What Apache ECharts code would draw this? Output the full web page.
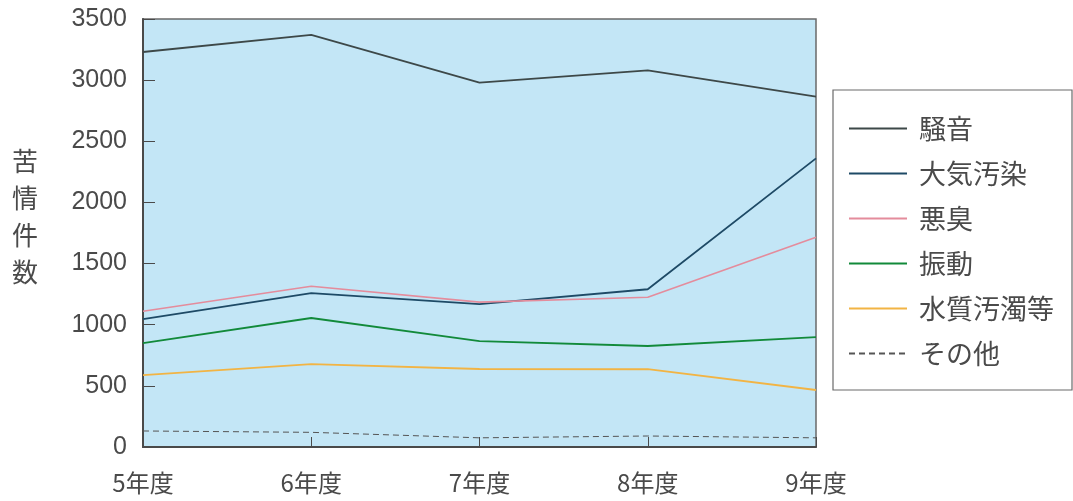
<!DOCTYPE html>
<html>
<head>
<meta charset="utf-8">
<script src="https://cdn.jsdelivr.net/npm/echarts@6/dist/echarts.min.js"></script>
<style>
  html, body { margin: 0; padding: 0; background: #fff; }
  #chart { width: 1073px; height: 501px; }
</style>
</head>
<body>
<div id="chart"></div>
<script>
// 年度ごとの苦情件数
const years = ['5年度', '6年度', '7年度', '8年度', '9年度'];
const noise = [3230, 3370, 2980, 3080, 2865];       // 騒音
const air = [1045, 1258, 1168, 1290, 2360];         // 大気汚染
const odor = [1110, 1315, 1185, 1225, 1715];        // 悪臭
const vibration = [850, 1055, 866, 826, 899];       // 振動
const water = [588, 678, 638, 636, 466];            // 水質汚濁等
const other = [131, 120, 75, 90, 75];               // その他
const yTicks = [0, 500, 1000, 1500, 2000, 2500, 3000, 3500];

const latin = '"Liberation Sans", "Noto Sans CJK JP", sans-serif';
const cjk = '"Noto Sans CJK JP", sans-serif';
const textColor = '#4a4a4a';

function line(name, data, color, width, type) {
    return {
        name: name,
        type: 'line',
        data: data,
        symbol: 'none',
        lineStyle: { color: color, width: width, type: type || 'solid' },
        itemStyle: { color: color },
        emphasis: { disabled: true },
        animation: false,
    };
}

const chart = echarts.init(document.getElementById('chart'));

chart.setOption({
    backgroundColor: '#fff',
    textStyle: { fontFamily: latin },
    grid: {
        left: 143, right: 257, top: 19, bottom: 54,
        show: true,
        backgroundColor: '#c3e6f6',
        borderColor: '#6a6a6a',
        borderWidth: 1.5,
    },
    xAxis: {
        type: 'category',
        data: years,
        boundaryGap: false,
        axisLine: { lineStyle: { color: '#4a4a4a', width: 2 } },
        axisTick: { inside: true, length: 10, lineStyle: { color: '#4a4a4a' } },
        axisLabel: { color: textColor, fontSize: 24, margin: 24, fontFamily: cjk },
        splitLine: { show: false },
    },
    yAxis: {
        type: 'value',
        min: yTicks[0],
        max: yTicks[yTicks.length - 1],
        interval: 500,
        axisLine: { show: true, lineStyle: { color: '#4a4a4a', width: 2 } },
        axisTick: { show: true, inside: true, length: 12, lineStyle: { color: '#4a4a4a' } },
        axisLabel: { color: textColor, fontSize: 25, margin: 16, formatter: v => String(v) },
        splitLine: { show: false },
    },
    legend: {
        orient: 'vertical',
        left: 843,
        top: 110,
        itemWidth: 58,
        itemHeight: 14,
        itemGap: 18,
        itemStyle: { opacity: 0 },
        textStyle: { color: textColor, fontSize: 27, fontFamily: cjk, padding: [0, 0, 0, 7] },
        data: ['騒音', '大気汚染', '悪臭', '振動', '水質汚濁等', 'その他'],
    },
    graphic: [
        {
            type: 'rect',
            shape: { x: 833, y: 90, width: 239, height: 300 },
            style: { fill: 'none', stroke: '#6a6a6a', lineWidth: 1.2 },
            z: -1,
        },
        {
            type: 'text',
            left: 12,
            top: 143,
            style: {
                text: '苦\n情\n件\n数',
                font: '26px "Noto Sans CJK JP", sans-serif',
                fill: textColor,
                lineHeight: 37,
            },
        },
    ],
    series: [
        line('騒音', noise, '#3d4848', 1.8),
        line('大気汚染', air, '#1e4a66', 1.8),
        line('悪臭', odor, '#e48c9c', 1.6),
        line('振動', vibration, '#128a3a', 1.8),
        line('水質汚濁等', water, '#f2b444', 1.8),
        line('その他', other, '#555', 1, [6, 4]),
    ],
});
</script>
</body>
</html>
